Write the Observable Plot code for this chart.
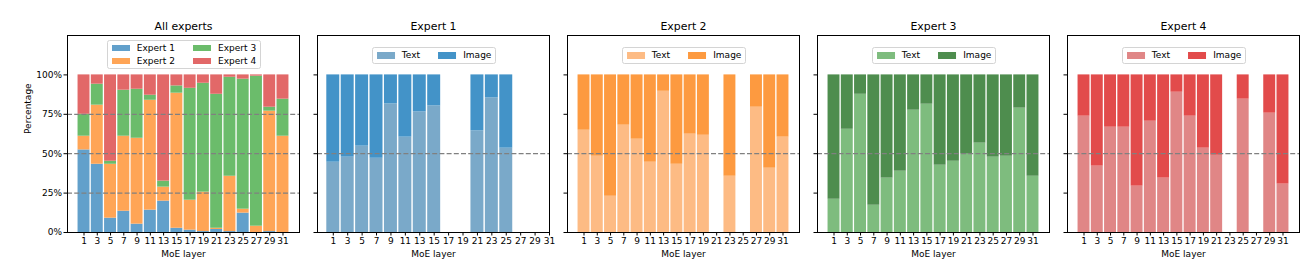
<!DOCTYPE html>
<html><head><meta charset="utf-8">
<script src="https://cdn.jsdelivr.net/npm/d3@7"></script>
<script src="https://cdn.jsdelivr.net/npm/@observablehq/plot@0.6"></script>
<style>
body{margin:0;background:#fff;}
#chart{position:relative;width:1315px;height:277px;font-family:"DejaVu Sans",sans-serif;overflow:hidden;background:#fff;}
#chart svg{position:absolute;top:0;}
.legend{position:absolute;background:rgba(255,255,255,0.8);border:1px solid #d4d4d4;border-radius:2.5px;padding:3.4px 3.6px;box-sizing:border-box;font-size:9px;color:#000;display:grid;column-gap:18px;row-gap:4.3px;grid-auto-flow:column;}
.legend.two{grid-template-rows:auto auto;}
.legend.one{grid-template-rows:auto;}
.item{display:flex;align-items:center;gap:7.2px;white-space:nowrap;line-height:8.4px;}
.sw{width:18px;height:6.3px;display:inline-block;}
</style></head>
<body><div id="chart"></div>
<script>
// ---- data ----
const layers = [1, 3, 5, 7, 9, 11, 13, 15, 17, 19, 21, 23, 25, 27, 29, 31];
const yTicks = [0, 25, 50, 75, 100];
const expertNames = ["Expert 1", "Expert 2", "Expert 3", "Expert 4"];
const modalityNames = ["Text", "Image"];
const panelTitles = ["All experts", "Expert 1", "Expert 2", "Expert 3", "Expert 4"];

// "All experts": share (%) of tokens routed to each expert per layer
const expert1Share = [52.4, 43.3, 9.1, 13.5, 5.3, 14.2, 19.9, 2.7, 1.5, 0.6, 1.9, 0.6, 12.3, 0, 0.6, 0];
const expert2Share = [8.7, 37.5, 34.2, 47.6, 54.5, 69.7, 8.9, 85.7, 19.0, 25.0, 0.8, 35.1, 2.5, 4.0, 76.4, 61.1];
const expert3Share = [13.9, 13.3, 1.9, 29.2, 31.1, 3.2, 3.8, 4.6, 71.0, 69.1, 85.0, 62.8, 82.5, 95.2, 2.5, 23.5];
const expert4Share = [25.0, 5.9, 54.8, 9.7, 9.1, 12.9, 67.4, 7.0, 8.5, 5.3, 12.3, 1.5, 2.7, 0.8, 20.5, 15.4];

// Per expert: share (%) of Text tokens among its tokens (Image = rest); null = no tokens
const expert1Text = [44.6, 47.8, 54.8, 47.1, 81.6, 60.5, 76.5, 80.3, null, null, 64.5, 85.4, 53.5, null, null, null];
const expert2Text = [64.9, 48.4, 23.0, 68.1, 59.2, 44.6, 89.6, 43.3, 62.4, 61.7, null, 35.7, null, 79.5, 40.8, 60.5];
const expert3Text = [21.1, 65.5, 87.7, 17.3, 34.5, 38.9, 77.6, 81.4, 42.7, 45.2, 49.7, 56.7, 47.8, 48.4, 78.9, 35.7];
const expert4Text = [73.8, 42.1, 66.8, 66.8, 29.4, 70.6, 34.5, 89.0, 73.8, 53.5, 49.0, null, 84.6, null, 75.7, 30.7];

// ---- colours ----
const allColors = ["#62a0cb", "#ffa556", "#6bbc6b", "#e26868"];
const textColors = ["#7aa9c9", "#fdbb84", "#7ebc7e", "#e08686"];
const imageColors = ["#4393c8", "#fd9a40", "#4e8d4e", "#e24b4b"];

// ---- layout ----
const frameLefts = [67, 317, 567, 817, 1067];
const frameWidth = 232;
const xDomains = [[-1.49, 33.49], [-1.19, 31], [-1.49, 33.49], [-1.49, 33.49], [-1.49, 33.49]];

const chart = document.getElementById("chart");

function buildAll() {
  const shares = [expert1Share, expert2Share, expert3Share, expert4Share];
  const rows = [];
  layers.forEach((layer, i) => {
    let acc = 0;
    shares.forEach((s, k) => {
      rows.push({layer, y1: acc, y2: acc + s[i], color: allColors[k]});
      acc += s[i];
    });
  });
  return rows;
}
function buildExpert(textShare, k) {
  const rows = [];
  layers.forEach((layer, i) => {
    const t = textShare[i];
    if (t == null) return;
    rows.push({layer, y1: 0, y2: t, color: textColors[k]});
    rows.push({layer, y1: t, y2: 100, color: imageColors[k]});
  });
  return rows;
}

function panel(p, rects, grid) {
  const first = p === 0;
  const mL = first ? 67 : 8, mR = 8;
  const svg = Plot.plot({
    width: mL + frameWidth + mR, height: 277,
    marginTop: 35, marginBottom: 45, marginLeft: mL, marginRight: mR,
    style: {background: "transparent", fontFamily: "DejaVu Sans", fontSize: "9px", color: "#000", overflow: "visible"},
    x: {domain: xDomains[p]},
    y: {domain: [0, 125]},
    color: {type: "identity"},
    marks: [
      Plot.rect(rects, {x1: d => d.layer - 0.9, x2: d => d.layer + 0.9, y1: "y1", y2: "y2", fill: "color"}),
      Plot.ruleY(grid, {stroke: "#808080", strokeWidth: 1.2, strokeDasharray: "5,2.2"}),
      Plot.axisX({ticks: layers, tickSize: 3.5, tickPadding: 2, label: null, tickFormat: d => String(d)}),
      Plot.axisY({ticks: yTicks, tickSize: 3.5, tickPadding: 2, label: null, tickFormat: first ? (d => d + "%") : (() => "")}),
      Plot.frame({stroke: "#000", strokeWidth: 1}),
      Plot.text([panelTitles[p]], {frameAnchor: "top", dy: -9.5, fontSize: 10.9, lineAnchor: "middle"}),
      Plot.text(["MoE layer"], {frameAnchor: "bottom", dy: 21.5, lineAnchor: "middle"}),
      first ? Plot.text(["Percentage"], {frameAnchor: "left", dx: -39.7, rotate: -90, lineAnchor: "middle"}) : null
    ]
  });
  svg.style.left = (frameLefts[p] - mL) + "px";
  chart.appendChild(svg);
}

function legend(labels, colors, cls, left, top, centered) {
  const div = document.createElement("div");
  div.className = "legend " + cls;
  labels.forEach((lab, i) => {
    const it = document.createElement("div");
    it.className = "item";
    const sw = document.createElement("span");
    sw.className = "sw";
    sw.style.background = colors[i];
    const tx = document.createElement("span");
    tx.textContent = lab;
    it.appendChild(sw); it.appendChild(tx);
    div.appendChild(it);
  });
  div.style.left = left + "px";
  div.style.top = top + "px";
  if (centered) div.style.transform = "translateX(-50%)";
  chart.appendChild(div);
}

panel(0, buildAll(), [25, 50, 75]);
const texts = [expert1Text, expert2Text, expert3Text, expert4Text];
texts.forEach((t, k) => panel(k + 1, buildExpert(t, k), [50]));

legend(expertNames, allColors, "two", 107, 39.5, false);
texts.forEach((t, k) => legend(modalityNames, [textColors[k], imageColors[k]], "one", frameLefts[k + 1] + frameWidth / 2 + 1, 47, true));
</script>
</body></html>
